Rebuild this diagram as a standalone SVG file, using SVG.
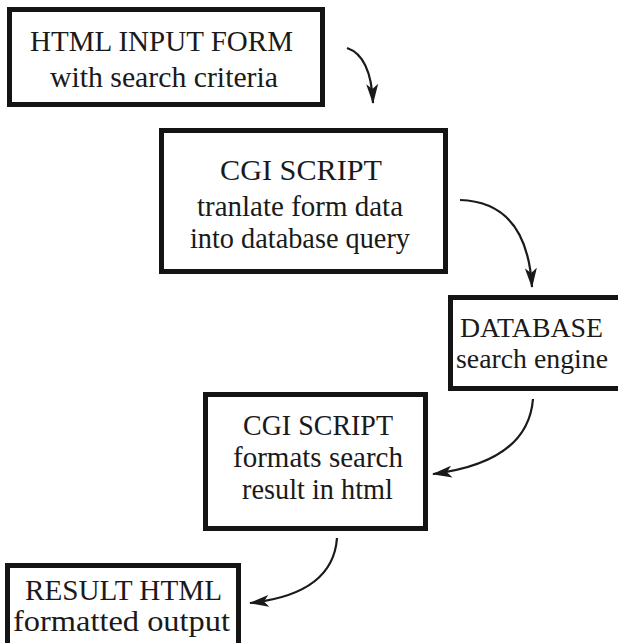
<svg xmlns="http://www.w3.org/2000/svg" width="618" height="643" viewBox="0 0 618 643">
<defs>
<style>
.box{fill:#fff;stroke:#141414;stroke-width:5}
.t{font-family:"Liberation Serif","Times New Roman",serif;font-size:30px;fill:#1a1a1a}
.s{font-size:28px}
.c{fill:none;stroke:#1a1a1a;stroke-width:2.2}
</style>
<marker id="ah" viewBox="0 0 20 12" refX="19" refY="6" markerWidth="20" markerHeight="12" markerUnits="userSpaceOnUse" orient="auto">
<path d="M0,0 L20,6 L0,12 L5,6 z" fill="#1a1a1a"/>
</marker>
</defs>
<rect width="618" height="643" fill="#fff"/>
<g id="n1">
<rect class="box" x="9.5" y="9.5" width="313" height="95"/>
<text class="t" x="30" y="51" textLength="263" lengthAdjust="spacingAndGlyphs">HTML INPUT FORM</text>
<text class="t" x="50" y="87" textLength="228" lengthAdjust="spacingAndGlyphs">with search criteria</text>
</g>
<g id="n2">
<rect class="box" x="161.5" y="130.5" width="284" height="141"/>
<text class="t" x="220" y="180" textLength="162" lengthAdjust="spacingAndGlyphs">CGI SCRIPT</text>
<text class="t" x="197" y="216" textLength="206" lengthAdjust="spacingAndGlyphs">tranlate form data</text>
<text class="t" x="190" y="248" textLength="220" lengthAdjust="spacingAndGlyphs">into database query</text>
</g>
<g id="n3">
<rect class="box" x="450.5" y="297.5" width="180" height="91"/>
<text class="t s" x="460" y="337" textLength="143" lengthAdjust="spacingAndGlyphs">DATABASE</text>
<text class="t s" x="456" y="368" textLength="152" lengthAdjust="spacingAndGlyphs">search engine</text>
</g>
<g id="n4">
<rect class="box" x="205.5" y="394.5" width="220" height="134"/>
<text class="t" x="243" y="435" textLength="150" lengthAdjust="spacingAndGlyphs">CGI SCRIPT</text>
<text class="t" x="233" y="467" textLength="170" lengthAdjust="spacingAndGlyphs">formats search</text>
<text class="t" x="242" y="499" textLength="151" lengthAdjust="spacingAndGlyphs">result in html</text>
</g>
<g id="n5">
<rect class="box" x="7.5" y="565.5" width="231" height="90"/>
<text class="t" x="25" y="600" textLength="197" lengthAdjust="spacingAndGlyphs">RESULT HTML</text>
<text class="t" x="13" y="631" textLength="217" lengthAdjust="spacingAndGlyphs">formatted output</text>
</g>
<g id="connectors">
<path class="c" d="M347,48 Q371,56 373,103" marker-end="url(#ah)"/>
<path class="c" d="M460,200 Q527,202 532,287" marker-end="url(#ah)"/>
<path class="c" d="M533,399 Q528,462 433,474" marker-end="url(#ah)"/>
<path class="c" d="M337,538 Q333,594 250,603" marker-end="url(#ah)"/>
</g>
</svg>
